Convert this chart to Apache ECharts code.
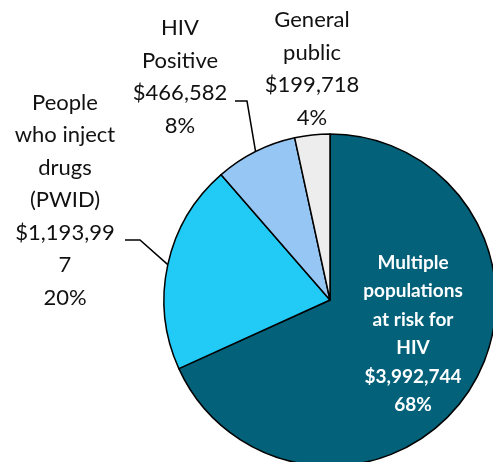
<!DOCTYPE html>
<html>
<head>
<meta charset="utf-8">
<script src="https://cdn.jsdelivr.net/npm/echarts@6/dist/echarts.min.js"></script>
<style>
  html, body { margin: 0; padding: 0; background: #ffffff; }
  #chart { width: 493px; height: 462px; }
</style>
</head>
<body>
<div id="chart"></div>
<script>
// Funding by population group
const categories = [
  'Multiple populations at risk for HIV',
  'People who inject drugs (PWID)',
  'HIV Positive',
  'General public'
];
const amounts = [3992744, 1193997, 466582, 199718];
const amountLabels = ['$3,992,744', '$1,193,99\n7', '$466,582', '$199,718'];
const percentLabels = ['68%', '20%', '8%', '4%'];
const nameLabels = [
  'Multiple\npopulations\nat risk for\nHIV',
  'People\nwho inject\ndrugs\n(PWID)',
  'HIV\nPositive',
  'General\npublic'
];
const colors = ['#03617A', '#22CAF6', '#96C7F4', '#EDEDED'];

const font = 'Lato, "Open Sans", "Liberation Sans", sans-serif';

// label anchor points (centre of each text block) in pixels
const labelCentres = [
  [413, 334],
  [65, 200],
  [180, 77],
  [312, 69]
];
// where the leader line meets each label, relative to the label centre:
// [end x, bend x, y]
const leaderOffsets = [null, [60, 75, 40], [55, 67, 24], null];

const seriesData = categories.map((c, i) => ({
  name: c,
  value: amounts[i],
  itemStyle: { color: colors[i] },
  label: i === 0 ? {
    position: 'inside',
    color: '#ffffff',
    fontWeight: 'bold',
    fontSize: 19,
    lineHeight: 28.5
  } : {
    position: 'outside',
    color: '#111111',
    fontSize: 22,
    lineHeight: 32.5
  },
  labelLine: { show: leaderOffsets[i] !== null }
}));

const chart = echarts.init(document.getElementById('chart'), null, { renderer: 'canvas' });
chart.setOption({
  backgroundColor: '#ffffff',
  animation: false,
  series: [{
    type: 'pie',
    center: [330, 300],
    radius: 166,
    startAngle: 90,
    clockwise: true,
    avoidLabelOverlap: false,
    itemStyle: { borderColor: '#000000', borderWidth: 1.5 },
    label: {
      show: true,
      fontFamily: font,
      align: 'center',
      formatter: p => nameLabels[p.dataIndex] + '\n' + amountLabels[p.dataIndex] + '\n' + percentLabels[p.dataIndex]
    },
    labelLine: {
      show: true,
      length: 14,
      length2: 14,
      lineStyle: { color: '#000000', width: 1.5 }
    },
    labelLayout: p => {
      const i = p.dataIndex;
      const c = labelCentres[i];
      const out = { x: c[0], y: c[1], align: 'center', verticalAlign: 'middle' };
      const off = leaderOffsets[i];
      if (off && p.labelLinePoints) {
        const start = p.labelLinePoints[0];
        out.labelLinePoints = [
          [start[0], start[1]],
          [c[0] + off[1], c[1] + off[2]],
          [c[0] + off[0], c[1] + off[2]]
        ];
      }
      return out;
    },
    data: seriesData
  }]
});
</script>
</body>
</html>
